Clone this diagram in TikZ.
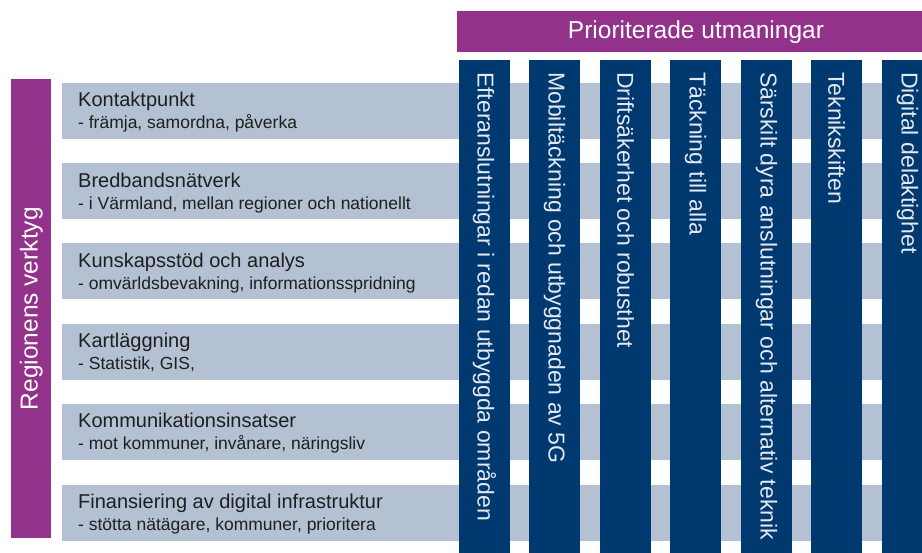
\documentclass[tikz,border=0pt]{standalone}
\usepackage{fontspec}
\setmainfont{Liberation Sans}
\definecolor{purp}{RGB}{146,50,138}
\definecolor{navy}{RGB}{0,57,112}
\definecolor{bandgrey}{RGB}{179,193,210}
\definecolor{coltext}{RGB}{228,232,240}
\tikzset{
  band/.style={fill=bandgrey, anchor=north west, minimum width=860pt, minimum height=56pt, inner sep=0pt},
  pillar/.style={fill=navy, anchor=north west, minimum width=51pt, minimum height=500pt, inner sep=0pt},
  pillartext/.style={rotate=-90, anchor=west, inner sep=0pt, text=coltext, font=\fontsize{23}{27}\selectfont},
  tooltitle/.style={anchor=base west, inner sep=0pt, text=black!88, font=\fontsize{20}{24}\selectfont},
  toolsub/.style={anchor=base west, inner sep=0pt, text=black!88, font=\fontsize{17.5}{21}\selectfont}
}
\begin{document}
\begin{tikzpicture}[x=1pt,y=-1pt]
    \useasboundingbox (0,0) rectangle (922,553);
    \clip (0,0) rectangle (922,553);

    % rows
    \node[band] (row1) at (62,83) {};
    \node[band] (row2) at (62,163) {};
    \node[band] (row3) at (62,243) {};
    \node[band] (row4) at (62,324) {};
    \node[band] (row5) at (62,404) {};
    \node[band] (row6) at (62,485) {};

    \node[tooltitle] (t1) at (78,107) {Kontaktpunkt};
    \node[toolsub] (s1) at (78,129) {- främja, samordna, påverka};
    \node[tooltitle] (t2) at (78,188) {Bredbandsnätverk};
    \node[toolsub] (s2) at (78,210) {- i Värmland, mellan regioner och nationellt};
    \node[tooltitle] (t3) at (78,268) {Kunskapsstöd och analys};
    \node[toolsub] (s3) at (78,290) {- omvärldsbevakning, informationsspridning};
    \node[tooltitle] (t4) at (78,348) {Kartläggning};
    \node[toolsub] (s4) at (78,370) {- Statistik, GIS,};
    \node[tooltitle] (t5) at (78,428) {Kommunikationsinsatser};
    \node[toolsub] (s5) at (78,450) {- mot kommuner, invånare, näringsliv};
    \node[tooltitle] (t6) at (78,508) {Finansiering av digital infrastruktur};
    \node[toolsub] (s6) at (78,530) {- stötta nätägare, kommuner, prioritera};

    % columns
    \foreach \i/\x/\txt in {1/459/{Efteranslutningar i redan utbyggda områden},
                            2/529/{Mobiltäckning och utbyggnaden av 5G},
                            3/600/{Driftsäkerhet och robusthet},
                            4/670/{Täckning till alla},
                            5/741/{Särskilt dyra anslutningar och alternativ teknik},
                            6/811/{Teknikskiften},
                            7/882/{Digital delaktighet}} {
        \node[pillar] (col\i) at (\x,60) {};
        \node[pillartext] (ct\i) at (\x+25.5,72) {\txt};
    }

    % headers
    \fill[purp] (457,11) rectangle (930,52);
    \node[text=white, font=\fontsize{24.5}{28}\selectfont] (prio) at (696,32) {Prioriterade utmaningar};
    \node[fill=purp, anchor=north west, minimum width=40pt, minimum height=459pt, inner sep=0pt] (tools) at (11,79) {};
    \node[rotate=90, text=white, font=\fontsize{24.5}{28}\selectfont] (toolslabel) at (tools.center) {Regionens verktyg};
\end{tikzpicture}
\end{document}
